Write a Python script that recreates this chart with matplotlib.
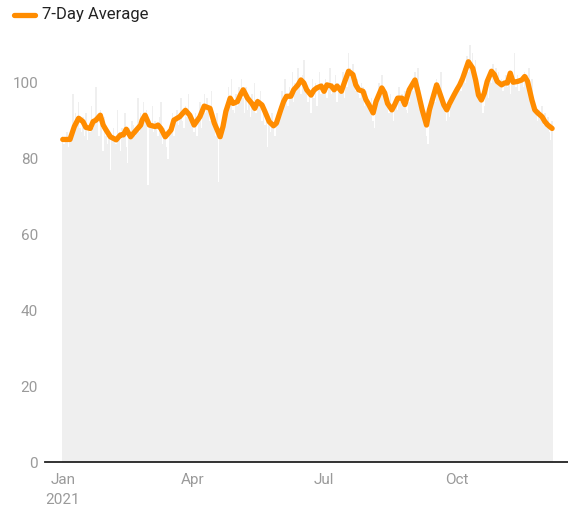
import matplotlib
matplotlib.use("Agg")
import matplotlib.pyplot as plt
import matplotlib.dates as mdates
from matplotlib.lines import Line2D
import numpy as np
import pandas as pd

plt.rcParams['font.family'] = ['Roboto', 'DejaVu Sans']

# Daily values by month (2021)
jan = [86, 84, 85, 87, 83, 85, 86, 97, 89, 92, 90, 95, 88, 87, 91, 86, 92, 85, 89, 87, 94, 88, 91, 99, 90, 86, 93, 88, 82, 91, 86]
feb = [84, 87, 77, 86, 88, 85, 84, 93, 86, 82, 88, 87, 92, 83, 79, 88, 86, 90, 89, 86, 88, 96, 87, 92, 89, 95, 90, 93]
mar = [73, 90, 88, 94, 87, 90, 88, 86, 91, 95, 84, 88, 86, 83, 80, 88, 87, 92, 86, 90, 93, 89, 91, 96, 90, 88, 94, 91, 97, 92, 89]
apr = [90, 87, 92, 86, 90, 95, 88, 94, 97, 92, 96, 93, 90, 98, 91, 88, 86, 92, 74, 85, 87, 90, 89, 94, 96, 99, 95, 101, 93, 92]
may = [97, 94, 99, 95, 101, 96, 92, 99, 93, 95, 91, 97, 94, 100, 92, 96, 94, 98, 90, 93, 89, 91, 83, 90, 87, 92, 88, 86, 91, 90, 94]
jun = [93, 98, 95, 101, 96, 94, 99, 97, 103, 95, 100, 98, 104, 99, 97, 102, 106, 99, 97, 95, 98, 92, 101, 96, 100, 94, 99, 103, 97, 100]
jul = [98, 101, 96, 99, 104, 97, 100, 98, 102, 95, 100, 99, 97, 103, 96, 101, 99, 108, 104, 102, 105, 100, 98, 101, 97, 96, 100, 99, 94, 98, 96]
aug = [95, 93, 96, 90, 88, 95, 97, 100, 98, 102, 97, 99, 96, 95, 92, 97, 93, 90, 94, 96, 93, 99, 95, 97, 96, 98, 93, 92, 95, 100, 99]
sep = [98, 103, 100, 104, 99, 96, 93, 91, 89, 86, 84, 90, 93, 96, 99, 95, 101, 100, 98, 103, 96, 94, 92, 90, 95, 91, 94, 97, 96, 99]
oct_ = [97, 99, 100, 98, 102, 104, 100, 107, 103, 110, 105, 108, 103, 106, 101, 99, 96, 95, 92, 94, 97, 99, 96, 103, 100, 105, 102, 104, 101, 103, 100]
nov = [101, 98, 100, 102, 99, 103, 97, 101, 100, 108, 99, 102, 98, 100, 101, 99, 103, 100, 102, 104, 99, 101, 96, 94, 92, 90, 93, 91, 94, 89]
dec = [92, 88, 91, 87, 85, 90]

# 7-day average (day offset from 2021-01-01, value)
avg_day = [0, 5, 8, 11, 14, 16, 19, 21, 23, 26, 28, 30, 33, 35, 37, 40, 42, 44, 47, 49,
           51, 54, 55, 57, 60, 62, 64, 66, 68, 71, 75, 77, 81, 85, 88, 91, 95, 98, 102, 105,
           109, 111, 113, 116, 118, 121, 123, 125, 128, 131, 133, 135, 138, 140, 143, 146, 148, 151, 153, 155,
           158, 160, 163, 165, 167, 169, 172, 174, 176, 179, 181, 183, 186, 188, 190, 193, 195, 198, 201, 203,
           205, 208, 210, 212, 215, 217, 221, 223, 225, 228, 230, 232, 235, 237, 240, 244, 246, 249, 252, 254,
           257, 259, 261, 264, 266, 268, 271, 273, 275, 277, 279, 281, 284, 286, 288, 290, 292, 294, 297, 299,
           301, 304, 306, 308, 310, 312, 315, 318, 320, 322, 325, 327, 329, 332, 334, 336, 339]
avg_val = [85.1, 85.1, 88.5, 90.7, 89.8, 88.3, 88.0, 89.8, 90.2, 91.5, 88.9, 87.6, 85.8, 85.4, 85.0, 86.3, 86.3, 87.8, 85.8, 86.7,
           87.6, 88.9, 90.2, 91.5, 88.9, 88.7, 88.5, 88.9, 88.0, 85.8, 87.6, 90.2, 91.1, 92.8, 91.5, 88.9, 91.1, 93.9, 93.3, 89.4,
           85.8, 88.5, 92.5, 96.0, 94.6, 95.1, 96.8, 98.2, 96.0, 94.6, 93.3, 95.1, 94.2, 92.5, 89.8, 88.7, 89.4, 92.9, 95.1, 96.5,
           96.5, 98.2, 99.5, 100.8, 100.0, 98.2, 96.8, 98.1, 98.7, 99.2, 97.8, 99.5, 99.2, 98.2, 99.2, 97.8, 100.0, 103.1, 102.2, 99.5,
           98.2, 97.8, 95.6, 94.3, 92.1, 95.1, 98.7, 97.4, 94.6, 92.9, 94.3, 96.0, 96.0, 94.3, 98.2, 100.8, 97.8, 92.9, 88.9, 92.9,
           96.8, 99.5, 97.5, 94.2, 92.9, 94.6, 96.8, 98.2, 99.5, 101.2, 103.4, 105.6, 103.9, 100.8, 96.8, 95.5, 97.3, 100.4, 103.1, 102.2,
           100.4, 99.5, 100.0, 100.0, 102.6, 100.2, 100.4, 100.8, 101.7, 100.4, 95.5, 92.9, 92.1, 91.1, 89.8, 88.9, 88.0]

x_ticks = ['2021-01-01', '2021-04-01', '2021-07-01', '2021-10-01']
x_labels = ['Jan\n2021', 'Apr', 'Jul', 'Oct']
y_ticks = [0, 20, 40, 60, 80, 100]

daily = jan + feb + mar + apr + may + jun + jul + aug + sep + oct_ + nov + dec
start = pd.Timestamp('2021-01-01')
dates = pd.date_range(start, periods=len(daily), freq='D')
avg_dates = [start + pd.Timedelta(days=d) for d in avg_day]

W, H = 568, 508
fig = plt.figure(figsize=(W / 100, H / 100), dpi=100)
top_px, bot_px, left_px = 37.5, 462, 45
ax = fig.add_axes([left_px / W, 1 - bot_px / H, 1 - left_px / W, (bot_px - top_px) / H])

ax.bar(dates, daily, width=1.0, color='#efefef', edgecolor='none', align='center', zorder=1)
ax.plot(avg_dates, avg_val, color='#ff8c00', lw=3.8, solid_joinstyle='round', solid_capstyle='round', zorder=3)

ax.set_ylim(0, 112)
x0 = mdates.date2num(start)
ax.set_xlim(x0 - 12.3, x0 + 350.0)
ax.set_yticks(y_ticks)
ax.set_xticks([mdates.date2num(pd.Timestamp(t)) for t in x_ticks])
ax.set_xticklabels(x_labels, linespacing=1.5)
ax.tick_params(axis='both', length=0, labelsize=11, colors='#9a9a9a')
ax.tick_params(axis='y', pad=5)
ax.tick_params(axis='x', pad=8)
for s in ['top', 'right', 'left']:
    ax.spines[s].set_visible(False)
ax.spines['bottom'].set_color('#222222')
ax.spines['bottom'].set_linewidth(1.3)
ax.set_facecolor('white')

# legend
fig.add_artist(Line2D([14 / W, 35 / W], [1 - 15 / H, 1 - 15 / H], color='#ff8c00', lw=3.8,
                      solid_capstyle='round', transform=fig.transFigure))
fig.text(42 / W, 1 - 15 / H, '7-Day Average', fontsize=12, color='#222222', va='center', ha='left')

fig.savefig('out.png', dpi=100)
